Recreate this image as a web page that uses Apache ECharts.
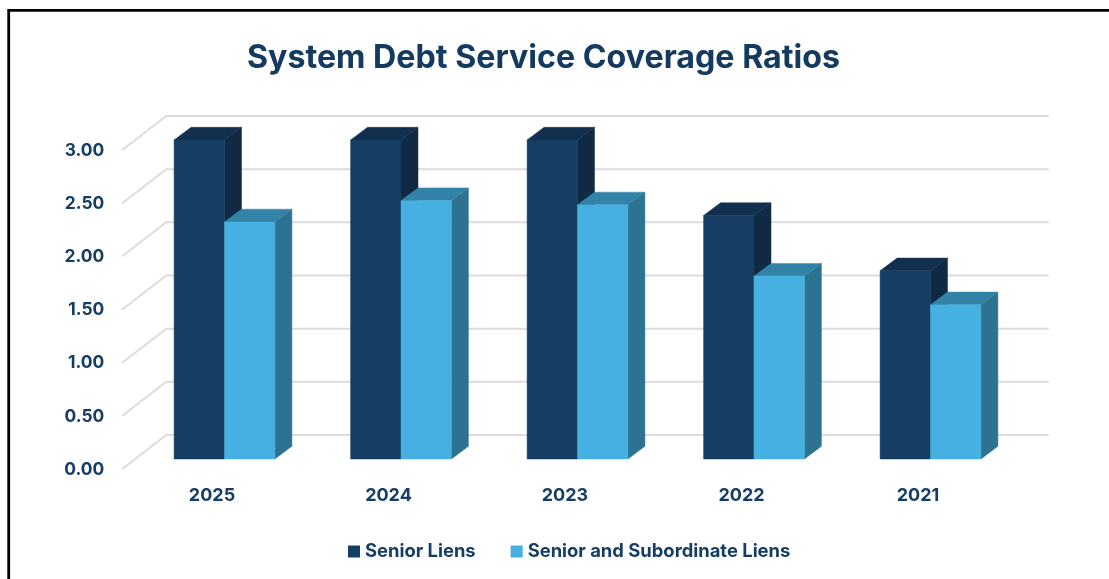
<!DOCTYPE html>
<html>
<head>
<meta charset="utf-8">
<style>html,body{margin:0;padding:0;background:#fff}#c{width:1109px;height:579px}</style>
<script src="https://cdn.jsdelivr.net/npm/echarts@6/dist/echarts.min.js"></script>
</head>
<body>
<div id="c"></div>
<script>
const categories = ['2025', '2024', '2023', '2022', '2021'];
const seniorLiens = [3.00, 3.00, 3.00, 2.29, 1.77];
const seniorSubLiens = [2.23, 2.43, 2.39, 1.72, 1.45];
const yTicks = [0, 0.5, 1, 1.5, 2, 2.5, 3];

const FONT = 'Inter, "Liberation Sans", sans-serif';
const INK = '#163e64';
const BAR_DX = 17, BAR_DY = 12.7, BAR_FRAC = 0.2855;

function poly(points, fill) {
  return { type: 'polygon', shape: { points }, style: { fill, stroke: fill, lineWidth: 0.5 } };
}
function barRenderer(slot, front, top, side) {
  return function (params, api) {
    const p = api.coord([api.value(0), api.value(1)]);
    const base = api.coord([api.value(0), 0]);
    const w = api.size([1, 0])[0] * BAR_FRAC;
    const x0 = p[0] + slot * w, x1 = x0 + w, yT = p[1], yB = base[1];
    return {
      type: 'group',
      children: [
        poly([[x1, yT], [x1 + BAR_DX, yT - BAR_DY], [x1 + BAR_DX, yB - BAR_DY], [x1, yB]], side),
        poly([[x0, yT], [x0 + BAR_DX, yT - BAR_DY], [x1 + BAR_DX, yT - BAR_DY], [x1, yT]], top),
        poly([[x0, yT], [x1, yT], [x1, yB], [x0, yB]], front)
      ]
    };
  };
}
function wallRenderer(params, api) {
  const v = api.value(0);
  const yf = api.coord([0, v])[1];
  const cs = params.coordSys;
  const left = cs.x, right = cs.x + cs.width;
  return {
    type: 'group',
    children: [
      { type: 'polyline', shape: { points: [[left - 14, yf + 10], [left + 30, yf - 24], [right + 30, yf - 24]] },
        style: { fill: 'none', stroke: '#dcdcdc', lineWidth: 2 } }
    ]
  };
}

const chart = echarts.init(document.getElementById('c'), null, { renderer: 'canvas' });
chart.setOption({
  animation: false,
  backgroundColor: '#fff',
  title: {
    text: 'System Debt Service Coverage Ratios',
    left: 538.5, top: 37, textAlign: 'center',
    textStyle: { color: '#143a60', fontFamily: FONT, fontWeight: 'bold', fontSize: 32.2 }
  },
  legend: {
    left: 343, top: 537.5, itemWidth: 12, itemHeight: 12, itemGap: 35, icon: 'rect',
    data: ['Senior Liens', 'Senior and Subordinate Liens'],
    textStyle: { color: INK, fontFamily: FONT, fontWeight: 'bold', fontSize: 18.4 }
  },
  grid: { left: 136.25, right: 90.25, top: 140, bottom: 120, containLabel: false },
  xAxis: {
    type: 'category', data: categories,
    axisLine: { show: false }, axisTick: { show: false },
    axisLabel: { color: INK, fontFamily: FONT, fontWeight: 'bold', fontSize: 18, margin: 28, padding: [0, 25, 0, 0] }
  },
  yAxis: {
    type: 'value', min: 0, max: 3, interval: 0.5,
    axisLine: { show: false }, axisTick: { show: false }, splitLine: { show: false },
    axisLabel: { color: INK, fontFamily: FONT, fontWeight: 'bold', fontSize: 17.4, margin: 32,
      verticalAlign: 'top', lineHeight: 21,
      formatter: v => v.toFixed(2) }
  },
  graphic: [{
    type: 'rect', silent: true, z: 100,
    shape: { x: 8.7, y: 10.3, width: 1300, height: 800 },
    style: { fill: 'none', stroke: '#000', lineWidth: 2.8 }
  }],
  series: [
    { type: 'custom', name: 'wall', silent: true, z: 1, clip: false, coordinateSystem: 'cartesian2d',
      data: yTicks.map(v => [v]), encode: { x: -1, y: 0 }, renderItem: wallRenderer },
    { type: 'custom', name: 'Senior Liens', z: 2, clip: false, itemStyle: { color: '#163e64' },
      data: seniorLiens.map((v, i) => [i, v]), encode: { x: 0, y: 1 },
      renderItem: barRenderer(-1, '#163e64', '#12304e', '#0f2a42') },
    { type: 'custom', name: 'Senior and Subordinate Liens', z: 3, clip: false, itemStyle: { color: '#45b0e1' },
      data: seniorSubLiens.map((v, i) => [i, v]), encode: { x: 0, y: 1 },
      renderItem: barRenderer(0, '#45b0e1', '#3383a8', '#2d7391') }
  ]
});
</script>
</body>
</html>
